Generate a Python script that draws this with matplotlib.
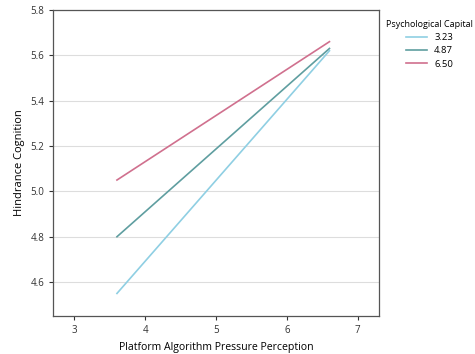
import matplotlib
matplotlib.use('Agg')
import matplotlib.pyplot as plt

plt.rcParams['font.family'] = ['Open Sans', 'DejaVu Sans']

x_vals = [3.6, 6.6]
levels = ['3.23', '4.87', '6.50']
y_low = [4.55, 5.62]
y_mid = [4.80, 5.63]
y_high = [5.05, 5.66]
colors = ['#8fcfe3', '#5f9ea0', '#d0708e']

fig = plt.figure(figsize=(4.75, 3.54), dpi=100)
ax = fig.add_axes([0.112, 0.107, 0.686, 0.865])

for lab, ys, c in zip(levels, [y_low, y_mid, y_high], colors):
    ax.plot(x_vals, ys, color=c, lw=1.2, label=lab)

ax.set_xlim(2.7, 7.3)
ax.set_ylim(4.45, 5.8)
ax.set_xticks([3, 4, 5, 6, 7])
ax.set_yticks([4.6, 4.8, 5.0, 5.2, 5.4, 5.6, 5.8])
ax.yaxis.grid(True, color='#dddddd', lw=0.8)
ax.set_axisbelow(True)
for s in ax.spines.values():
    s.set_color('#555555')
    s.set_linewidth(0.9)
ax.tick_params(labelsize=7, colors='#333333', length=3, width=0.8)
ax.set_xlabel('Platform Algorithm Pressure Perception', fontsize=7.6, labelpad=4)
ax.set_ylabel('Hindrance Cognition', fontsize=8)

leg = ax.legend(title='Psychological Capital', loc='upper left', bbox_to_anchor=(0.995, 0.995),
                frameon=False, fontsize=6.8, title_fontsize=6.5, handlelength=2.2,
                labelspacing=0.45)

fig.savefig('out.png', dpi=100)
